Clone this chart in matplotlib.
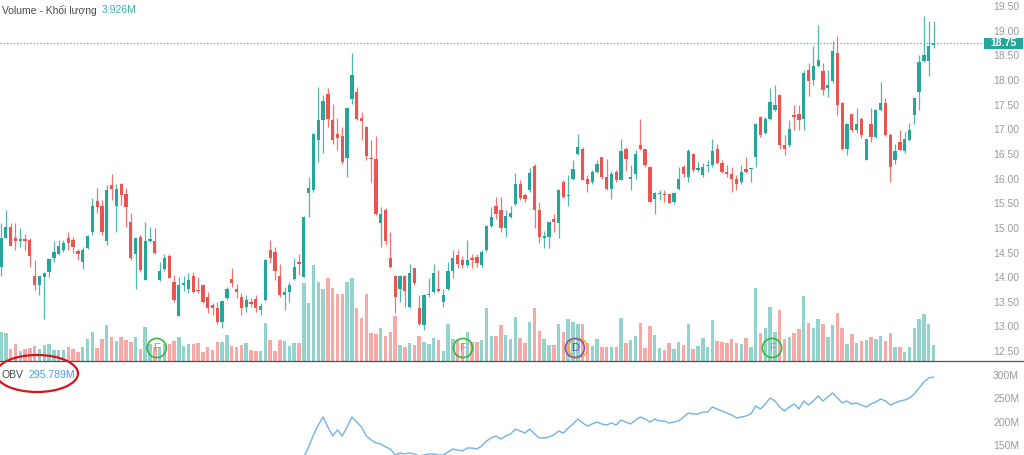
## Import libraries
import numpy as np
import matplotlib
matplotlib.use('Agg')
from matplotlib import pyplot as plt
from matplotlib.patches import Ellipse, Rectangle
from matplotlib.lines import Line2D
from matplotlib.transforms import blended_transform_factory

plt.rcParams['font.family'] = ['Liberation Sans', 'DejaVu Sans']

## Daily candles, oldest first
opens = [14.21, 14.79, 15.02, 14.80, 14.74, 14.75, 14.75, 14.03, 13.84, 14.00,
         14.11, 14.38, 14.48, 14.55, 14.79, 14.75, 14.53, 14.30, 14.60, 14.92,
         15.55, 15.44, 14.74, 15.86, 15.44, 15.90, 15.68, 15.11, 14.48, 14.81,
         13.94, 14.74, 14.74, 13.94, 14.17, 14.43, 13.90, 13.22, 13.85, 13.77,
         14.02, 13.72, 13.85, 13.60, 13.44, 13.37, 13.10, 13.58, 13.96, 13.77,
         13.60, 13.40, 13.50, 13.55, 13.33, 13.54, 14.56, 14.52, 14.03, 13.64,
         13.69, 13.96, 14.31, 14.01, 15.71, 15.77, 16.78, 17.19, 17.71, 17.19,
         16.90, 16.87, 16.41, 17.61, 17.76, 17.22, 17.05, 16.42, 16.40, 15.09,
         15.36, 14.38, 14.03, 13.77, 14.03, 13.40, 14.18, 13.38, 13.03, 13.63,
         13.69, 13.77, 13.50, 13.77, 14.13, 14.44, 14.35, 14.25, 14.38, 14.40,
         14.25, 14.55, 15.04, 15.44, 15.36, 14.99, 15.23, 15.48, 15.90, 15.67,
         15.77, 16.26, 15.36, 14.79, 14.82, 15.19, 15.09, 15.94, 15.64, 15.99,
         16.50, 16.61, 16.00, 15.94, 16.14, 16.43, 16.04, 15.78, 16.14, 15.98,
         16.59, 15.99, 16.09, 16.69, 16.59, 16.24, 15.58, 15.68, 15.67, 15.68,
         15.53, 15.78, 16.24, 16.04, 16.49, 16.18, 16.07, 16.25, 16.27, 16.59,
         16.32, 16.14, 16.09, 15.99, 15.94, 16.19, 16.19, 16.43, 17.24, 16.93,
         17.20, 17.39, 17.70, 16.69, 16.68, 17.29, 17.30, 17.20, 18.20, 18.00,
         18.28, 18.19, 17.84, 17.98, 18.55, 17.54, 16.59, 17.30, 16.99, 17.21,
         16.38, 17.11, 16.84, 17.39, 17.54, 16.88, 16.38, 16.75, 16.55, 16.78,
         17.29, 17.76, 18.39, 18.39, 18.71]
highs = [15.10, 15.36, 15.10, 15.10, 14.99, 14.87, 14.79, 14.35, 14.02, 14.11,
         14.38, 14.74, 14.75, 14.75, 14.92, 14.81, 14.58, 14.62, 14.86, 15.61,
         15.80, 15.56, 15.87, 16.09, 15.90, 15.92, 15.80, 15.30, 14.80, 14.86,
         15.11, 15.02, 14.99, 14.31, 14.48, 14.48, 14.04, 14.01, 14.02, 14.08,
         14.11, 14.01, 13.86, 13.70, 13.47, 13.50, 13.52, 13.81, 14.18, 13.87,
         13.67, 13.64, 13.57, 13.64, 13.47, 14.37, 14.75, 14.62, 14.27, 13.81,
         13.91, 14.38, 14.48, 15.25, 16.04, 16.92, 17.85, 17.69, 17.83, 17.52,
         17.22, 17.05, 17.45, 18.55, 17.86, 17.36, 17.06, 16.78, 16.87, 15.43,
         15.40, 14.92, 14.05, 14.05, 14.05, 14.26, 14.19, 13.64, 13.65, 13.98,
         14.27, 14.14, 13.77, 14.31, 14.56, 14.55, 14.42, 14.75, 14.48, 14.48,
         14.55, 15.06, 15.43, 15.63, 15.62, 15.36, 15.44, 16.11, 15.98, 15.70,
         16.21, 16.29, 15.53, 14.94, 15.12, 15.29, 15.78, 15.98, 16.07, 16.38,
         16.90, 16.65, 16.07, 16.17, 16.38, 16.44, 16.39, 16.16, 16.17, 16.80,
         16.65, 16.27, 16.58, 17.20, 16.61, 16.25, 15.73, 15.77, 15.77, 15.69,
         15.72, 16.24, 16.27, 16.61, 16.51, 16.34, 16.31, 16.38, 16.80, 16.70,
         16.38, 16.27, 16.24, 16.07, 16.27, 16.43, 16.22, 17.12, 17.26, 17.24,
         17.84, 17.90, 17.71, 16.88, 17.19, 17.49, 17.49, 18.20, 18.35, 18.68,
         19.11, 18.34, 18.20, 18.80, 18.89, 17.56, 17.12, 17.34, 17.44, 17.24,
         16.81, 17.44, 17.42, 17.95, 17.63, 16.92, 16.70, 16.99, 16.95, 17.12,
         17.64, 18.51, 19.30, 19.20, 19.20]
lows = [14.02, 14.79, 14.63, 14.55, 14.62, 14.56, 14.21, 13.73, 13.64, 13.15,
        14.01, 14.31, 14.45, 14.52, 14.55, 14.50, 14.35, 14.17, 14.57, 14.86,
        15.31, 14.86, 14.65, 15.57, 14.92, 15.46, 15.02, 14.35, 13.77, 14.11,
        13.94, 14.72, 14.48, 13.93, 14.13, 13.98, 13.50, 13.22, 13.71, 13.67,
        13.67, 13.67, 13.47, 13.27, 13.23, 13.06, 12.96, 13.54, 13.81, 13.57,
        13.23, 13.30, 13.40, 13.30, 13.23, 13.52, 14.28, 13.94, 13.60, 13.33,
        13.50, 13.94, 14.04, 14.00, 15.23, 15.73, 16.34, 16.51, 17.05, 16.71,
        16.58, 16.30, 16.04, 17.52, 17.19, 16.78, 16.38, 15.94, 15.26, 14.62,
        14.65, 14.18, 13.28, 13.50, 13.40, 13.38, 13.84, 13.03, 12.93, 13.60,
        13.67, 13.70, 13.40, 13.74, 13.98, 14.18, 14.18, 14.21, 14.18, 14.21,
        14.21, 14.52, 15.02, 15.19, 14.92, 14.82, 15.21, 15.44, 15.57, 15.53,
        15.73, 14.99, 14.69, 14.60, 14.60, 14.92, 14.79, 15.60, 15.44, 15.97,
        16.48, 15.97, 15.73, 15.90, 16.11, 16.00, 15.77, 15.58, 15.94, 15.97,
        16.16, 15.77, 16.00, 16.57, 16.24, 15.52, 15.29, 15.56, 15.53, 15.50,
        15.49, 15.77, 16.04, 15.94, 16.14, 16.14, 16.04, 16.14, 16.24, 16.30,
        16.11, 16.04, 15.73, 15.77, 15.90, 16.11, 15.94, 16.24, 16.85, 16.90,
        17.19, 17.38, 16.61, 16.48, 16.65, 16.99, 16.99, 16.99, 17.67, 17.90,
        18.27, 17.70, 17.66, 17.93, 17.29, 16.58, 16.48, 16.95, 16.92, 16.82,
        16.37, 16.75, 16.82, 17.38, 16.86, 15.94, 16.30, 16.57, 16.52, 16.77,
        17.11, 17.39, 18.36, 18.08, 18.65]
closes = [14.79, 15.02, 14.63, 14.73, 14.75, 14.74, 14.43, 13.84, 14.02, 14.08,
          14.36, 14.52, 14.64, 14.70, 14.69, 14.62, 14.48, 14.56, 14.84, 15.44,
          15.43, 14.92, 15.77, 15.79, 15.78, 15.67, 15.43, 14.38, 14.79, 14.15,
          14.74, 14.75, 14.50, 14.13, 14.38, 13.99, 13.54, 13.85, 13.86, 13.94,
          13.69, 13.71, 13.50, 13.37, 13.38, 13.10, 13.52, 13.77, 13.89, 13.69,
          13.37, 13.54, 13.46, 13.37, 13.42, 14.35, 14.38, 14.13, 13.64, 13.69,
          13.85, 14.21, 14.26, 15.23, 15.80, 16.90, 17.19, 17.58, 17.21, 16.78,
          16.82, 16.34, 17.44, 18.11, 17.21, 17.17, 16.46, 16.39, 15.28, 15.28,
          14.74, 14.21, 13.59, 14.03, 13.72, 14.08, 13.89, 13.05, 13.64, 13.64,
          14.08, 13.72, 13.64, 14.13, 14.38, 14.27, 14.25, 14.35, 14.35, 14.28,
          14.52, 15.04, 15.23, 15.29, 14.99, 15.24, 15.31, 15.89, 15.60, 15.58,
          16.12, 15.36, 14.82, 14.84, 15.11, 15.12, 15.77, 15.62, 15.67, 16.19,
          16.65, 15.98, 15.90, 16.14, 16.29, 16.04, 15.78, 16.09, 15.98, 16.55,
          16.39, 16.04, 16.50, 16.59, 16.27, 15.53, 15.71, 15.69, 15.66, 15.51,
          15.70, 15.99, 16.09, 16.55, 16.17, 16.19, 16.24, 16.26, 16.55, 16.32,
          16.14, 16.09, 15.99, 15.89, 16.14, 16.14, 16.20, 17.11, 16.88, 17.20,
          17.55, 17.49, 16.68, 16.59, 17.00, 17.24, 17.19, 18.15, 17.98, 18.28,
          18.40, 17.80, 17.90, 18.59, 17.49, 16.59, 17.11, 16.99, 17.11, 16.88,
          16.80, 16.84, 17.40, 17.53, 16.88, 16.24, 16.55, 16.58, 16.80, 16.99,
          17.63, 18.36, 18.51, 18.69, 18.75]

## Volume in millions of shares
volumes = [7.0, 6.8, 2.9, 4.1, 2.5, 2.9, 3.3, 3.7, 2.9, 3.9,
           4.1, 2.7, 2.7, 2.7, 3.5, 2.9, 2.3, 3.5, 5.4, 7.2,
           3.1, 5.4, 8.8, 6.0, 4.9, 6.0, 5.1, 4.7, 5.8, 2.9,
           8.4, 4.2, 3.5, 3.5, 4.2, 4.1, 4.9, 5.8, 3.7, 4.1,
           4.1, 4.3, 2.3, 3.5, 2.7, 4.7, 4.7, 6.4, 3.7, 3.5,
           3.9, 4.5, 2.6, 2.4, 2.5, 9.4, 5.1, 2.5, 5.1, 4.9,
           3.7, 4.5, 4.5, 19.2, 14.3, 23.5, 19.4, 17.6, 20.3, 17.8,
           16.4, 16.4, 19.4, 20.4, 13.1, 10.5, 16.4, 6.8, 6.6, 8.0,
           6.1, 7.1, 11.0, 3.9, 3.4, 4.5, 3.9, 6.1, 4.7, 4.2,
           5.6, 5.1, 2.5, 9.1, 5.4, 5.1, 4.5, 7.2, 4.7, 4.6,
           5.1, 12.9, 6.2, 6.2, 8.8, 6.5, 5.3, 10.7, 5.7, 4.5,
           9.6, 12.9, 7.4, 5.4, 3.9, 3.9, 9.0, 7.2, 10.2, 9.6,
           9.2, 9.0, 4.3, 3.7, 5.4, 3.5, 3.5, 3.5, 3.4, 10.5,
           4.5, 5.1, 6.2, 9.4, 3.3, 8.6, 6.4, 3.2, 2.7, 4.3,
           2.9, 4.7, 3.9, 9.2, 2.9, 3.7, 5.6, 3.5, 10.0, 5.0,
           4.7, 4.3, 5.3, 4.5, 4.1, 5.6, 3.5, 17.8, 6.9, 8.0,
           13.2, 7.2, 12.5, 5.4, 6.0, 6.9, 7.8, 15.9, 9.4, 8.0,
           10.3, 9.2, 5.8, 8.8, 11.7, 8.0, 4.2, 6.6, 4.3, 4.9,
           5.1, 5.8, 5.3, 6.2, 5.0, 6.8, 3.5, 3.5, 2.3, 3.5,
           8.0, 10.3, 11.5, 9.1, 3.926]

## OBV in millions (below the visible pane before day 62)
obv = [np.nan] * 62 + [
    104.8, 124.1, 145.6, 171.3, 192.8, 210.0, 188.5, 169.2,
    182.1, 169.2, 188.5, 210.0, 199.2, 188.5, 169.2, 160.6, 154.2, 152.0,
    145.6, 141.3, 128.4, 132.7, 130.6, 132.7, 130.6, 126.3, 128.4, 130.6,
    130.6, 128.4, 128.4, 134.8, 141.3, 139.1, 137.0, 143.4, 143.4, 141.3,
    147.7, 158.5, 164.9, 169.2, 162.7, 169.2, 173.5, 184.2, 179.9, 175.6,
    184.2, 173.5, 164.9, 164.9, 167.0, 171.3, 179.9, 175.6, 186.4, 194.9,
    205.7, 197.1, 190.6, 194.9, 199.2, 194.9, 192.8, 197.1, 192.8, 203.5,
    199.2, 194.9, 203.5, 210.0, 205.7, 199.2, 205.7, 201.4, 201.4, 197.1,
    199.2, 201.4, 210.0, 218.5, 216.4, 216.4, 220.7, 220.7, 231.4, 227.1,
    222.8, 218.5, 214.3, 207.8, 210.0, 212.1, 216.4, 233.6, 227.1, 237.9,
    250.7, 244.3, 231.4, 222.8, 231.4, 237.9, 227.1, 244.3, 235.7, 244.3,
    255.0, 244.3, 252.9, 261.5, 250.7, 240.0, 244.3, 237.9, 240.0, 235.7,
    231.4, 237.9, 242.2, 248.6, 244.3, 235.7, 240.0, 244.3, 246.5, 250.7,
    259.3, 272.2, 285.1, 293.7, 295.789]

price_ticks = [12.5, 13.0, 13.5, 14.0, 14.5, 15.0, 15.5, 16.0, 16.5, 17.0, 17.5, 18.0, 18.5, 19.0, 19.5]
obv_ticks = [150, 200, 250, 300]
obv_tick_labels = ['150M', '200M', '250M', '300M']
last_price = 18.75
## event markers: (day position, letter)
events = [(32.4, 'F'), (96.1, 'F'), (119.4, 'D'), (160.4, 'F')]

GREEN = '#26a69a'
RED = '#ef5350'
VOL_GREEN = '#92d3cd'
VOL_RED = '#f7a9a8'
AXIS_TXT = '#9a9a9a'

o = np.array(opens)
h = np.array(highs)
l = np.array(lows)
c = np.array(closes)
v = np.array(volumes)
x = np.arange(len(c))
up = c >= o

W, H = 1024, 455
fig = plt.figure(figsize=(W / 100, H / 100), dpi=100)
fig.patch.set_facecolor('white')

plot_w = 984 / W
rect_price = [0, 94 / H, plot_w, 361 / H]
rect_obv = [0, 0, plot_w, 93 / H]

ax_vol = fig.add_axes(rect_price)
ax = fig.add_axes(rect_price, sharex=ax_vol)
ax.patch.set_visible(False)
ax_obv = fig.add_axes(rect_obv, sharex=ax_vol)

for a in (ax_vol, ax, ax_obv):
    for s in a.spines.values():
        s.set_visible(False)
    a.set_xticks([])
ax_vol.set_yticks([])
ax_vol.set_xlim(-0.21, 204.5)

## Volume bars
ax_vol.bar(x, v, width=0.72, color=np.where(up, VOL_GREEN, VOL_RED), linewidth=0)
ax_vol.set_ylim(0, 361 * 3.926 / 16)

## Candles
cols = np.where(up, GREEN, RED)
ax.vlines(x, l, h, colors=cols, linewidth=0.9, alpha=0.8)
ax.bar(x, np.maximum(np.abs(c - o), 0.025), bottom=np.minimum(o, c), width=0.68,
       color=cols, linewidth=0)
ax.set_ylim(12.30, 19.622)
ax.axhline(last_price, color=GREEN, linestyle=(0, (1, 2)), linewidth=0.8)
ax.yaxis.tick_right()
ax.set_yticks(price_ticks)
ax.set_yticklabels(['{0:.2f}'.format(t) for t in price_ticks])
ax.tick_params(axis='y', length=0, pad=6.5, labelsize=7.5, labelcolor=AXIS_TXT)

## OBV pane
ax_obv.plot(x, obv, color='#6fb3ea', linewidth=1.0)
ax_obv.set_ylim(128.4, 328.0)
ax_obv.yaxis.tick_right()
ax_obv.set_yticks(obv_ticks)
ax_obv.set_yticklabels(obv_tick_labels)
ax_obv.tick_params(axis='y', length=0, pad=6.5, labelsize=7.5, labelcolor=AXIS_TXT)

## Event markers at the bottom of the volume area
tr = blended_transform_factory(ax_vol.transData, ax_vol.transAxes)
for pos, letter in events:
    if letter == 'D':
        ax_vol.scatter([pos + 0.6], [0.036], s=190, facecolors='none', edgecolors='#ffa726',
                       linewidths=1.2, transform=tr, zorder=4)
        ax_vol.scatter([pos], [0.036], s=190, facecolors='none', edgecolors='#7e57c2',
                       linewidths=1.2, transform=tr, zorder=5)
        ax_vol.text(pos, 0.036, letter, color='#6a45b0', fontsize=8, ha='center', va='center',
                    transform=tr, zorder=6)
    else:
        ax_vol.scatter([pos], [0.036], s=190, facecolors='none', edgecolors='#35b83a',
                       linewidths=1.2, transform=tr, zorder=5)
        ax_vol.text(pos, 0.036, letter, color='#7cb83a', fontsize=8, ha='center', va='center',
                    transform=tr, zorder=6)

## Last price tag
fig.add_artist(Rectangle((984 / W, (H - 48.5) / H), 39 / W, 10.5 / H,
                         transform=fig.transFigure, facecolor=GREEN, edgecolor='none'))
fig.text(1003.5 / W, (H - 43.5) / H, '{0:.2f}'.format(last_price), color='white',
         fontsize=7.5, fontweight='bold', ha='center', va='center')

## Pane separator
fig.add_artist(Line2D([0, 1], [(H - 361) / H] * 2, color='#505050', linewidth=0.9))

## Legends
fig.text(2 / W, 1 - 10 / H, 'Volume - Khối lượng', fontsize=7.5, color='#4a4a4a', va='center')
fig.text(102 / W, 1 - 10 / H, '3.926M', fontsize=7.5, color='#3fb0a4', va='center')
fig.text(1 / W, 1 - 375 / H, 'OBV', fontsize=7.5, color='#4a4a4a', va='center')
fig.text(28 / W, 1 - 375 / H, '295.789M', fontsize=7.5, color='#4a9ee8', va='center')

## Red hand-drawn ring around the OBV legend
fig.add_artist(Ellipse((37 / W, 1 - 373.5 / H), 82 / W, 37 / H, transform=fig.transFigure,
                       fill=False, edgecolor='#d7141e', linewidth=1.6))

plt.savefig('out.png', dpi=100)
plt.close('all')
